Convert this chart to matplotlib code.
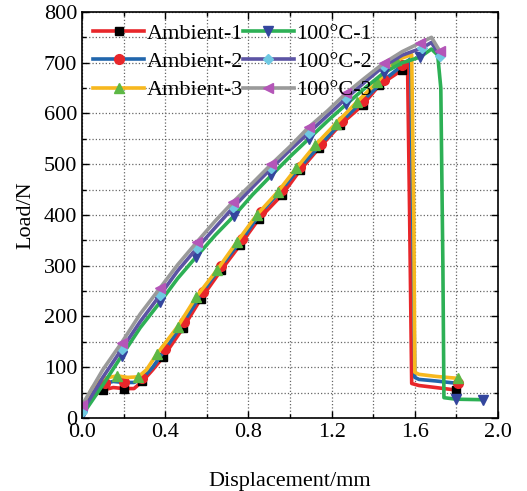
import matplotlib
matplotlib.use('Agg')
from matplotlib import pyplot as plt
from matplotlib.ticker import MultipleLocator

plt.rcParams['font.family'] = ['Liberation Serif', 'DejaVu Serif']

# Ambient-1
amb1_x = [0, 0.05, 0.10, 0.15, 0.20, 0.25, 0.29, 0.34, 0.39, 0.485, 0.57, 0.67, 0.76,
          0.85, 0.96, 1.05, 1.14, 1.24, 1.35, 1.43, 1.54, 1.565, 1.575, 1.585, 1.62, 1.70, 1.80]
amb1_y = [15, 42, 55, 60, 58, 58, 72, 95, 120, 177, 234, 292, 341,
          392, 439, 489, 532, 577, 617, 656, 686, 700, 400, 68, 64, 60, 55]
amb1_mk = [2, 4, 6, 8, 9, 10, 11, 12, 13, 14, 15, 16, 17, 18, 19, 20, 26]

# Ambient-2
amb2_x = [0, 0.05, 0.11, 0.15, 0.20, 0.25, 0.29, 0.34, 0.40, 0.49, 0.58, 0.67, 0.77,
          0.86, 0.96, 1.05, 1.15, 1.25, 1.35, 1.45, 1.54, 1.58, 1.59, 1.60, 1.62, 1.70, 1.81]
amb2_y = [18, 50, 68, 72, 70, 70, 78, 100, 135, 190, 248, 300, 352,
          405, 450, 495, 540, 585, 625, 665, 695, 708, 400, 80, 76, 73, 68]
amb2_mk = [2, 4, 6, 8, 9, 10, 11, 12, 13, 14, 15, 16, 17, 18, 19, 20, 26]

# Ambient-3
amb3_x = [0, 0.05, 0.10, 0.17, 0.22, 0.27, 0.31, 0.36, 0.46, 0.55, 0.65, 0.745, 0.84,
          0.94, 1.03, 1.12, 1.22, 1.32, 1.42, 1.51, 1.585, 1.595, 1.60, 1.62, 1.70, 1.81]
amb3_y = [20, 60, 78, 83, 80, 81, 95, 126, 180, 239, 292, 347, 400,
          445, 492, 537, 580, 622, 662, 705, 716, 400, 90, 86, 82, 78]
amb3_mk = [3, 5, 7, 8, 9, 10, 11, 12, 13, 14, 15, 16, 17, 18, 19, 25]

# 100C-1
h1_x = [0, 0.10, 0.19, 0.28, 0.375, 0.46, 0.55, 0.64, 0.73, 0.82, 0.91, 1.00, 1.09,
        1.18, 1.27, 1.36, 1.45, 1.54, 1.625, 1.68, 1.71, 1.725, 1.735, 1.74, 1.80, 1.93]
h1_y = [5, 65, 122, 178, 228, 275, 318, 360, 398, 440, 478, 515, 550,
        585, 618, 650, 680, 700, 711, 727, 715, 650, 300, 40, 37, 36]
h1_mk = [0, 2, 4, 6, 8, 10, 12, 14, 16, 18, 24, 25]

# 100C-2
h2_x = [0, 0.10, 0.19, 0.28, 0.375, 0.46, 0.553, 0.64, 0.727, 0.82, 0.91, 1.00, 1.09,
        1.18, 1.27, 1.36, 1.45, 1.54, 1.635, 1.68, 1.72]
h2_y = [12, 80, 135, 190, 242, 290, 335, 375, 415, 455, 492, 528, 562,
        596, 630, 662, 693, 715, 729, 740, 713]
h2_mk = [0, 2, 4, 6, 8, 10, 12, 14, 16, 18, 20]

# 100C-3
h3_x = [0, 0.10, 0.19, 0.28, 0.375, 0.46, 0.553, 0.64, 0.727, 0.82, 0.91, 1.00, 1.09,
        1.18, 1.27, 1.36, 1.45, 1.54, 1.625, 1.68, 1.72]
h3_y = [25, 95, 148, 205, 256, 302, 347, 388, 426, 463, 500, 535, 573,
        605, 640, 670, 699, 722, 739, 750, 723]
h3_mk = [0, 2, 4, 6, 8, 10, 12, 14, 16, 18, 20]

series = [
    ('Ambient-1', amb1_x, amb1_y, amb1_mk, '#E8262A', 's', '#000000'),
    ('Ambient-2', amb2_x, amb2_y, amb2_mk, '#2166AC', 'o', '#E8262A'),
    ('Ambient-3', amb3_x, amb3_y, amb3_mk, '#F7B81E', '^', '#5DB845'),
    ('100\u00b0C-1', h1_x, h1_y, h1_mk, '#2DB055', 'v', '#34469E'),
    ('100\u00b0C-2', h2_x, h2_y, h2_mk, '#5C54A4', 'D', '#6FC9E2'),
    ('100\u00b0C-3', h3_x, h3_y, h3_mk, '#9A9A9A', '<', '#B456B8'),
]
msizes = {'s': 6, 'o': 7, '^': 7.5, 'v': 7.5, 'D': 5.5, '<': 7.5}

fig = plt.figure(figsize=(5.27, 4.91), dpi=100)
ax = fig.add_axes([0.1556, 0.1487, 0.7894, 0.8269])

for name, xs, ys, mk, col, m, mcol in series:
    ax.plot(xs, ys, color=col, lw=2.6, marker=m, markevery=mk, ms=msizes[m],
            mfc=mcol, mec=mcol, label=name)

ax.set_xlim(0, 2.0)
ax.set_ylim(0, 800)
ax.xaxis.set_major_locator(MultipleLocator(0.4))
ax.xaxis.set_minor_locator(MultipleLocator(0.2))
ax.yaxis.set_major_locator(MultipleLocator(100))
ax.yaxis.set_minor_locator(MultipleLocator(50))
ax.set_xticklabels(['%.1f' % v for v in ax.get_xticks()])
ax.grid(True, which='both', ls=':', color='#666666', lw=0.9)
ax.set_axisbelow(True)
ax.tick_params(which='both', direction='in', top=True, right=True, labelsize=16)
ax.tick_params(which='major', length=5, width=1)
ax.tick_params(which='minor', length=3, width=1)
for s in ax.spines.values():
    s.set_linewidth(1.2)

ax.set_xlabel('Displacement/mm', fontsize=16, labelpad=22)
ax.set_ylabel('Load/N', fontsize=16, labelpad=6)

ax.legend(loc='upper left', ncol=2, frameon=False, fontsize=16,
          handlelength=2.3, handletextpad=0.1, columnspacing=0.0,
          labelspacing=0.35, borderaxespad=0.3, borderpad=0.2)

plt.savefig('out.png', dpi=100)
